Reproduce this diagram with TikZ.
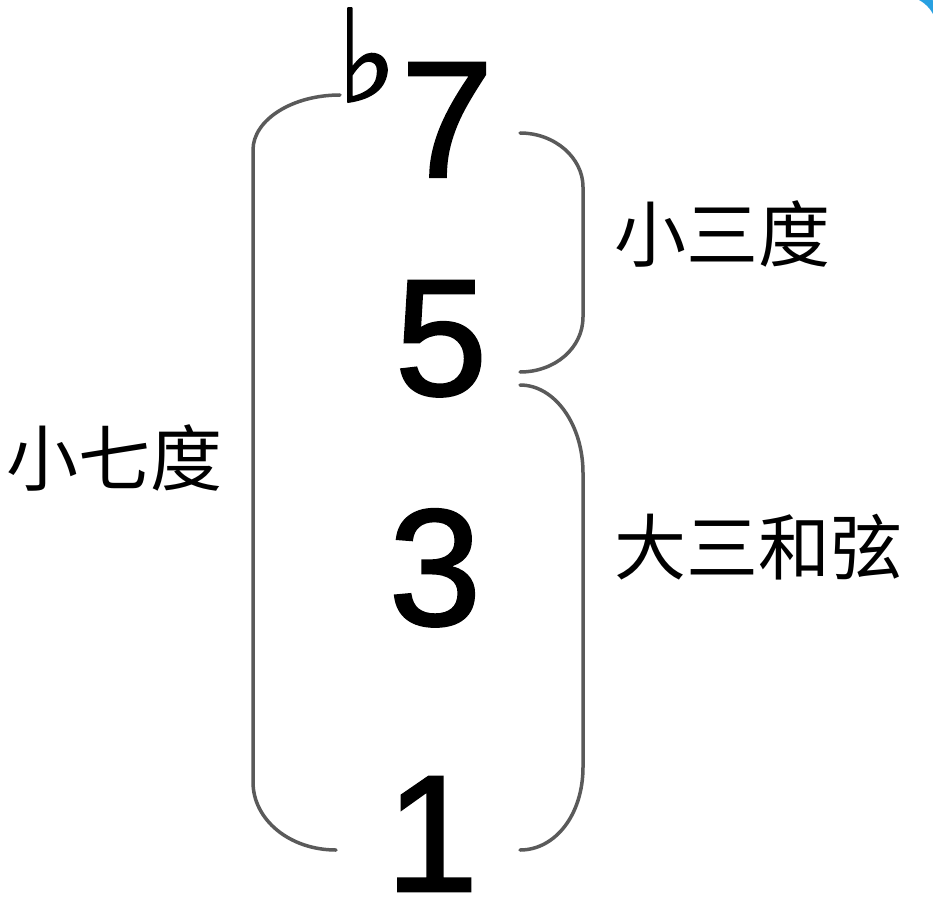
\documentclass[tikz,border=0pt]{standalone}
\usepackage{fontspec}
\usepackage{xcolor}
\usepackage{tikz}
\setmainfont{Liberation Sans}
\newfontfamily\digitfont[FakeBold=1.5]{Liberation Sans}
\newfontfamily\cjkfont{Noto Sans CJK SC}
\newfontfamily\symfont[FakeBold=1.5]{DejaVu Sans}
\definecolor{bracegray}{RGB}{90,90,90}
\definecolor{cornerblue}{RGB}{40,160,225}

\begin{document}
\begin{tikzpicture}[x=1pt, y=-1pt,
    digit/.style={anchor=base, inner sep=0pt, text depth=0pt, font=\digitfont\fontsize{166}{166}\selectfont},
    label/.style={inner sep=0pt, font=\cjkfont\fontsize{72}{72}\selectfont},
    brace/.style={draw=bracegray, line width=3.5pt, line cap=round}]
    \useasboundingbox (0,0) rectangle (933,917);
    \clip (0,0) rectangle (933,917);
    \fill[white] (0,0) rectangle (933,917);

    % Frame corner
    \draw[cornerblue, line width=8pt] (850,-8) -- (903,-8) .. controls (924,-8) and (941,9) .. (941,30) -- (941,120);

    % Digits
    \node[digit] (n7) at (447,177) {7};
    \node[digit] (n5) at (441,395) {5};
    \node[digit] (n3) at (435,625) {3};
    \node[digit] (n1) at (432,891) {1};

    % Flat sign
    \node[inner sep=0pt, font=\symfont\fontsize{128}{128}\selectfont] (flat) at (367,55) {♭};

    % Left brace
    \draw[brace] (340,95) .. controls (292,95) and (253,120) .. (253,150) -- (253,782) .. controls (253,820) and (290,850) .. (336,850);

    % Right brace, upper
    \draw[brace] (520,133) .. controls (555,133) and (583,158) .. (583,187) -- (583,317) .. controls (583,348) and (555,372) .. (520,372);

    % Right brace, lower
    \draw[brace] (520,385) .. controls (555,385) and (583,425) .. (583,473) -- (583,767) .. controls (583,815) and (555,850) .. (520,850);

    % Labels
    \node[label] (minor3) at (722,234) {小三度};
    \node[label] (minor7) at (114,458) {小七度};
    \node[label] (major) at (758,547) {大三和弦};
\end{tikzpicture}
\end{document}
